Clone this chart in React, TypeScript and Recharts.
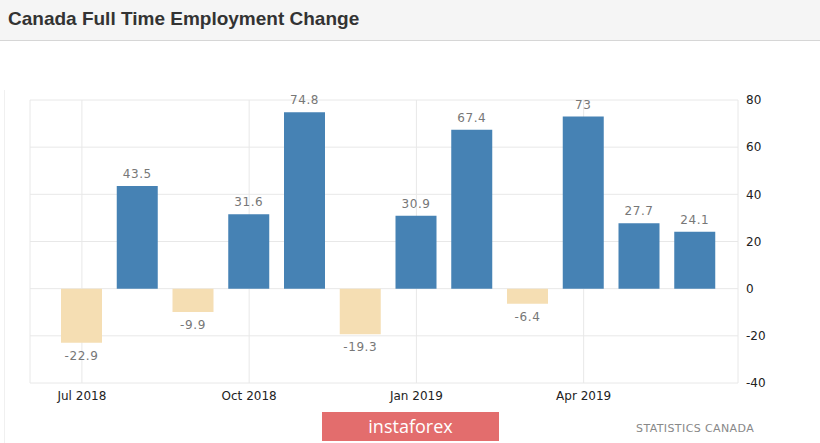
import React from "react";
import { BarChart, Bar, XAxis, YAxis, CartesianGrid, Cell } from "recharts";

const months = [
  "Jul 2018", "Aug 2018", "Sep 2018", "Oct 2018", "Nov 2018", "Dec 2018",
  "Jan 2019", "Feb 2019", "Mar 2019", "Apr 2019", "May 2019", "Jun 2019",
];
const changes = [-22.9, 43.5, -9.9, 31.6, 74.8, -19.3, 30.9, 67.4, -6.4, 73, 27.7, 24.1];
const xTicks = ["Jul 2018", "Oct 2018", "Jan 2019", "Apr 2019"];
const yTicks = [-40, -20, 0, 20, 40, 60, 80];

const chartData = months.map((m, i) => ({ month: m, value: changes[i] }));

const POS = "#4682b4";
const NEG = "#f5deb3";

// label sits above positive bars and below negative ones
const ValueLabel = (props: any) => {
  const { x, y, width, height, value } = props;
  const top = Math.min(y, y + height);
  const bottom = Math.max(y, y + height);
  const neg = value < 0;
  const ty = neg ? bottom + 17 : top - 8;
  return (
    <text
      x={x + width / 2}
      y={ty}
      textAnchor="middle"
      fill="#777"
      fontSize={12}
      letterSpacing={0.6}
      fontFamily="'DejaVu Sans', Verdana, sans-serif"
    >
      {value}
    </text>
  );
};

const tickFont = { fill: "#222", fontSize: 12, fontFamily: "'DejaVu Sans', Verdana, sans-serif" };

export default function App() {
  return (
    <div style={{ position: "absolute", top: 0, left: 0, width: 820, height: 443, background: "#fff", overflow: "hidden" }}>
      <div
        style={{
          position: "absolute", top: 0, left: 0, width: 820, height: 40,
          background: "#f5f5f5", borderBottom: "1px solid #d6d6d6",
        }}
      >
        <div
          style={{
            position: "absolute", left: 8, top: 8,
            fontFamily: "'Liberation Sans', Arial, sans-serif",
            fontWeight: "bold", fontSize: 19, color: "#333",
          }}
        >
          Canada Full Time Employment Change
        </div>
      </div>
      <div style={{ position: "absolute", left: 4, top: 90, width: 1, height: 353, background: "#f0f0f0" }} />
      <div style={{ position: "absolute", top: 0, left: 0 }}>
        <BarChart
          width={820}
          height={443}
          data={chartData}
          margin={{ top: 100, right: 42, bottom: 30, left: 30 }}
        >
          <CartesianGrid stroke="#e8e8e8" vertical={true} horizontal={true} />
          <XAxis
            dataKey="month"
            ticks={xTicks}
            interval={0}
            padding={{ left: 24, right: 15 }}
            axisLine={false}
            tickLine={false}
            tickSize={0}
            tickMargin={8}
            height={30}
            tick={tickFont}
          />
          <YAxis
            orientation="right"
            domain={[-40, 80]}
            ticks={yTicks}
            axisLine={false}
            tickLine={false}
            tickSize={0}
            tickMargin={8}
            width={40}
            tick={{ ...tickFont, textAnchor: "start" }}
          />
          <Bar dataKey="value" barSize={41} isAnimationActive={false} label={ValueLabel}>
            {chartData.map((d, i) => (
              <Cell key={i} fill={d.value < 0 ? NEG : POS} />
            ))}
          </Bar>
        </BarChart>
      </div>
      <div
        style={{
          position: "absolute", left: 322, top: 412, width: 177, height: 29,
          background: "#e36d6d", color: "#fff", textAlign: "center",
          fontFamily: "'Open Sans', sans-serif", fontSize: 18, lineHeight: "28px",
        }}
      >
        instaforex
      </div>
      <div
        style={{
          position: "absolute", left: 636, top: 422,
          fontFamily: "'DejaVu Sans', Verdana, sans-serif", fontSize: 11,
          color: "#888", letterSpacing: 0.4,
        }}
      >
        STATISTICS CANADA
      </div>
    </div>
  );
}
